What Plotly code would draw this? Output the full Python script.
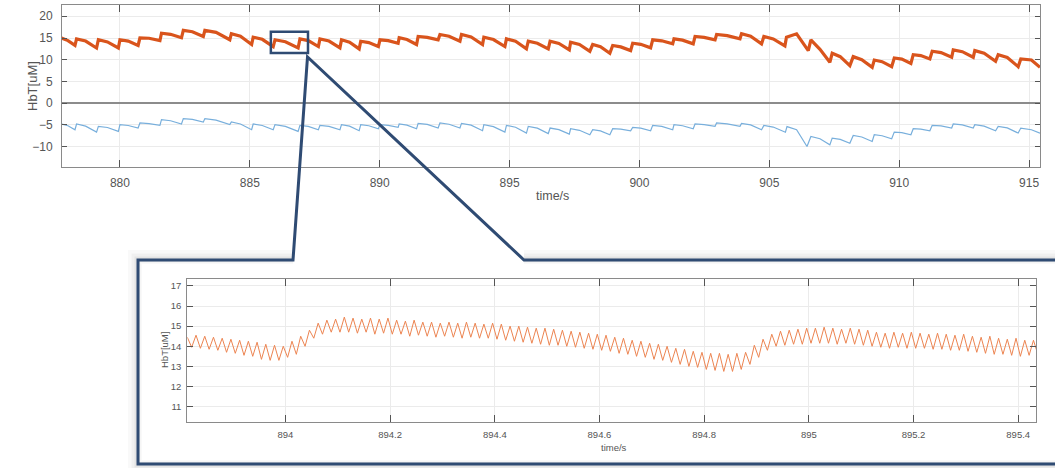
import plotly.graph_objects as go

W, H = 1055, 468

# ---------------- data ----------------
top_x_ticks = [880, 885, 890, 895, 900, 905, 910, 915]
top_y_ticks = [-10, -5, 0, 5, 10, 15, 20]
inset_x_ticks = [894.0, 894.2, 894.4, 894.6, 894.8, 895.0, 895.2, 895.4]
inset_x_labels = ["894", "894.2", "894.4", "894.6", "894.8", "895", "895.2", "895.4"]
inset_y_ticks = [11, 12, 13, 14, 15, 16, 17]

orange_t = [
    877.75, 878.00, 878.27, 878.33, 878.68, 879.10, 879.17, 879.52, 879.94, 880.00, 880.32, 880.70,
    880.77, 881.12, 881.54, 881.60, 881.95, 882.37, 882.44, 882.79, 883.21, 883.27, 883.70, 884.23,
    884.29, 884.64, 885.07, 885.13, 885.48, 885.90, 885.97, 886.37, 886.86, 886.93, 887.25, 887.64,
    887.70, 888.05, 888.47, 888.53, 888.84, 889.21, 889.27, 889.58, 889.95, 890.01, 890.33, 890.71,
    890.75, 891.05, 891.42, 891.48, 891.83, 892.25, 892.32, 892.67, 893.09, 893.15, 893.52, 893.96,
    894.01, 894.38, 894.82, 894.88, 895.23, 895.65, 895.72, 896.07, 896.49, 896.56, 896.90, 897.30,
    897.35, 897.69, 898.09, 898.20, 898.50, 898.86, 898.97, 899.28, 899.66, 899.74, 900.05, 900.43,
    900.51, 900.86, 901.28, 901.33, 901.66, 902.07, 902.14, 902.49, 902.91, 902.97, 903.38, 903.87,
    903.93, 904.28, 904.70, 904.79, 905.15, 905.60, 905.66, 906.05, 906.50, 906.60, 906.95, 907.33,
    907.42, 907.73, 908.10, 908.23, 908.56, 908.96, 909.04, 909.34, 909.71, 909.81, 910.10, 910.45,
    910.54, 910.83, 911.18, 911.27, 911.61, 912.02, 912.08, 912.43, 912.85, 912.91, 913.27, 913.71,
    913.81, 914.16, 914.58, 914.68, 915.09, 915.42,
]
orange_v = [
    15.0, 14.4, 13.3, 14.8, 14.3, 12.7, 14.6, 14.1, 12.7, 14.6, 14.3, 13.3,
    15.05, 14.95, 14.4, 16.1, 15.85, 15.05, 16.75, 16.45, 15.35, 16.75, 16.3, 14.6,
    16.0, 15.4, 13.5, 15.2, 14.7, 13.0, 14.6, 14.15, 12.7, 14.8, 14.4, 13.03,
    14.81, 14.3, 12.74, 14.58, 14.05, 12.49, 14.26, 13.95, 13.03, 14.58, 14.4, 13.8,
    15.05, 14.65, 13.5, 15.36, 15.15, 14.58, 15.81, 15.4, 14.26, 15.81, 15.25, 13.5,
    15.2, 14.65, 13.03, 14.81, 14.25, 12.49, 14.26, 13.8, 12.5, 14.26, 13.75, 12.26,
    14.04, 13.5, 11.95, 13.5, 13.0, 11.48, 13.27, 12.95, 12.1, 13.8, 13.55, 12.74,
    14.58, 14.35, 13.65, 14.81, 14.5, 13.65, 15.36, 15.15, 14.58, 15.81, 15.55, 14.81,
    15.97, 15.4, 13.65, 15.36, 14.8, 13.2, 15.2, 15.97, 12.1, 14.58, 12.4, 9.4,
    11.48, 10.7, 8.63, 10.71, 10.0, 8.25, 9.93, 9.55, 8.4, 10.4, 10.15, 9.16,
    11.17, 10.95, 10.17, 11.95, 11.65, 10.56, 12.26, 11.85, 10.56, 12.1, 11.5, 9.62,
    11.17, 10.5, 8.4, 10.17, 9.93, 8.25,
]

blue_t = [
    877.75, 878.00, 878.27, 878.33, 878.68, 879.10, 879.17, 879.52, 879.94, 880.00, 880.32, 880.70,
    880.77, 881.12, 881.54, 881.60, 881.95, 882.37, 882.44, 882.79, 883.21, 883.27, 883.70, 884.23,
    884.29, 884.64, 885.07, 885.13, 885.48, 885.90, 885.97, 886.37, 886.86, 886.93, 887.25, 887.64,
    887.70, 888.05, 888.47, 888.53, 888.84, 889.21, 889.27, 889.58, 889.95, 890.01, 890.33, 890.71,
    890.75, 891.05, 891.42, 891.48, 891.83, 892.25, 892.32, 892.67, 893.09, 893.15, 893.52, 893.96,
    894.01, 894.38, 894.82, 894.88, 895.23, 895.65, 895.72, 896.07, 896.49, 896.56, 896.90, 897.30,
    897.35, 897.69, 898.09, 898.20, 898.50, 898.86, 898.97, 899.28, 899.66, 899.74, 900.05, 900.43,
    900.51, 900.86, 901.28, 901.33, 901.66, 902.07, 902.14, 902.49, 902.91, 902.97, 903.38, 903.87,
    903.93, 904.28, 904.70, 904.79, 905.15, 905.62, 905.68, 906.05, 906.45, 906.60, 906.95, 907.33,
    907.42, 907.73, 908.10, 908.23, 908.56, 908.96, 909.04, 909.34, 909.71, 909.81, 910.10, 910.45,
    910.54, 910.83, 911.18, 911.27, 911.61, 912.02, 912.08, 912.43, 912.85, 912.91, 913.27, 913.71,
    913.81, 914.16, 914.58, 914.68, 915.09, 915.42,
]
blue_v = [
    -4.8, -5.2, -6.12, -4.8, -5.3, -6.66, -5.34, -5.6, -6.5, -4.95, -5.15, -5.73,
    -4.57, -4.7, -5.11, -3.79, -4.05, -4.8, -3.56, -3.75, -4.33, -3.56, -3.9, -4.95,
    -4.33, -4.8, -6.12, -4.8, -5.15, -6.12, -4.95, -5.35, -6.5, -5.1, -5.35, -6.12,
    -5.11, -5.35, -6.12, -4.95, -5.3, -6.35, -4.95, -5.2, -5.89, -4.95, -5.1, -5.58,
    -4.8, -5.05, -5.89, -4.65, -4.9, -5.73, -4.57, -4.85, -5.73, -4.65, -5.05, -6.35,
    -4.95, -5.4, -6.66, -5.11, -5.55, -6.89, -5.34, -5.75, -7.0, -5.73, -6.1, -7.12,
    -5.89, -6.25, -7.27, -6.12, -6.4, -7.27, -5.89, -6.0, -6.35, -5.58, -5.75, -6.35,
    -5.11, -5.35, -6.12, -4.95, -5.2, -5.89, -4.8, -4.95, -5.34, -4.57, -4.75, -5.34,
    -4.65, -5.0, -6.12, -5.11, -5.5, -6.7, -5.4, -6.12, -9.99, -7.66, -8.2, -9.6,
    -8.05, -8.35, -9.22, -7.43, -7.8, -8.83, -7.27, -7.5, -8.2, -6.66, -6.8, -7.27,
    -5.89, -6.0, -6.35, -5.11, -5.25, -5.73, -4.8, -5.0, -5.73, -4.95, -5.3, -6.35,
    -5.34, -5.7, -6.89, -5.73, -6.12, -6.89,
]

inset_t0 = 893.8125
inset_dt = 1 / 120
inset_v = [
    14.45, 13.95, 14.55, 13.9, 14.5, 13.85, 14.45, 13.8, 14.4, 13.7, 14.35, 13.65,
    14.3, 13.55, 14.25, 13.5, 14.2, 13.35, 14.1, 13.3, 14.05, 13.3, 14.0, 13.45,
    14.25, 13.6, 14.5, 14.0, 14.8, 14.4, 15.15, 14.6, 15.3, 14.7, 15.35, 14.7,
    15.45, 14.7, 15.4, 14.65, 15.35, 14.7, 15.4, 14.6, 15.35, 14.65, 15.4, 14.6,
    15.3, 14.6, 15.25, 14.5, 15.3, 14.55, 15.2, 14.5, 15.2, 14.45, 15.15, 14.5,
    15.2, 14.45, 15.15, 14.4, 15.2, 14.45, 15.15, 14.4, 15.1, 14.4, 15.15, 14.35,
    15.1, 14.3, 15.0, 14.25, 15.0, 14.2, 14.95, 14.15, 14.9, 14.1, 14.9, 14.05,
    14.85, 14.05, 14.8, 14.0, 14.75, 13.95, 14.7, 13.9, 14.65, 13.85, 14.6, 13.8,
    14.55, 13.75, 14.45, 13.65, 14.4, 13.6, 14.3, 13.5, 14.25, 13.45, 14.15, 13.35,
    14.1, 13.3, 14.0, 13.2, 13.9, 13.1, 13.85, 13.0, 13.75, 12.95, 13.7, 12.85,
    13.65, 12.8, 13.65, 12.75, 13.6, 12.75, 13.65, 12.85, 13.7, 13.1, 14.05, 13.45,
    14.35, 13.8, 14.6, 14.0, 14.75, 14.05, 14.8, 14.1, 14.85, 14.1, 14.9, 14.15,
    14.9, 14.15, 14.95, 14.15, 14.9, 14.1, 14.85, 14.15, 14.9, 14.1, 14.85, 14.05,
    14.8, 14.0, 14.7, 13.95, 14.65, 13.9, 14.7, 13.95, 14.65, 13.9, 14.7, 13.9,
    14.65, 13.9, 14.6, 13.85, 14.65, 13.85, 14.6, 13.8, 14.55, 13.8, 14.6, 13.75,
    14.5, 13.7, 14.45, 13.65, 14.5, 13.6, 14.4, 13.6, 14.35, 13.55, 14.4, 13.5,
    14.3, 13.55, 14.3, 13.6,
]

# zoom-box extent in data units of the top chart
zoom_box_t = [885.81, 887.24]
zoom_box_v = [11.56, 16.44]

# ---------------- figure ----------------
FONT = "Liberation Sans, Arial, Helvetica, sans-serif"
TXT = "#555555"
CALLOUT = "#2f4b73"


def px(x):
    return x / W


def py(y):
    return 1 - y / H


fig = go.Figure()
fig.add_trace(go.Scatter(x=orange_t, y=orange_v, mode="lines",
                         line=dict(color="#d9541c", width=3.2), xaxis="x", yaxis="y",
                         hoverinfo="skip"))
fig.add_trace(go.Scatter(x=blue_t, y=blue_v, mode="lines",
                         line=dict(color="#78afdc", width=1.2), xaxis="x", yaxis="y",
                         hoverinfo="skip"))
fig.add_trace(go.Scatter(x0=inset_t0, dx=inset_dt, y=inset_v, mode="lines",
                         line=dict(color="#ec8451", width=1), xaxis="x2", yaxis="y2",
                         hoverinfo="skip"))

common = dict(showline=True, linecolor="#8a8a8a", linewidth=1, mirror="ticks",
              ticks="inside", tickcolor="#555555", tickwidth=1,
              showgrid=True, gridcolor="#ebebeb", gridwidth=1)

fig.update_layout(
    width=W, height=H, margin=dict(l=0, r=0, t=0, b=0),
    paper_bgcolor="white", plot_bgcolor="white", showlegend=False,
    xaxis=dict(domain=[px(62), px(1040)], anchor="y", range=[877.77, 915.42],
               tickvals=top_x_ticks, ticklen=7, zeroline=False,
               tickfont=dict(family=FONT, size=12, color=TXT), ticklabelstandoff=5, **common),
    yaxis=dict(domain=[py(167), py(5)], anchor="x", range=[-14.7, 22.6],
               tickvals=top_y_ticks, ticklen=5, zeroline=True, zerolinecolor="#8c8c8c",
               zerolinewidth=1.6,
               tickfont=dict(family=FONT, size=12, color=TXT), ticklabelstandoff=6, **common),
    xaxis2=dict(domain=[px(187.3), px(1036)], anchor="y2", range=[893.8125, 895.434],
                tickvals=inset_x_ticks, ticktext=inset_x_labels, ticklen=7, zeroline=False,
                tickfont=dict(family=FONT, size=9.5, color=TXT), ticklabelstandoff=4, **common),
    yaxis2=dict(domain=[py(421.7), py(279.3)], anchor="x2", range=[10.25, 17.33],
                tickvals=inset_y_ticks, ticklen=6, zeroline=False,
                tickfont=dict(family=FONT, size=9.5, color=TXT), ticklabelstandoff=3, **common),
)

ann = dict(xref="paper", yref="paper", showarrow=False, xanchor="center", yanchor="middle")
fig.add_annotation(text="HbT[uM]", x=px(32), y=py(86), textangle=-90,
                   font=dict(family=FONT, size=13, color=TXT), **ann)
fig.add_annotation(text="time/s", x=px(552), y=py(196),
                   font=dict(family=FONT, size=12.5, color=TXT), **ann)
fig.add_annotation(text="HbT[uM]", x=px(164), y=py(350), textangle=-90,
                   font=dict(family=FONT, size=9.5, color=TXT), **ann)
fig.add_annotation(text="time/s", x=px(614), y=py(447),
                   font=dict(family=FONT, size=9.5, color=TXT), **ann)

# zoom box on the top chart
fig.add_shape(type="rect", xref="x", yref="y", x0=zoom_box_t[0], x1=zoom_box_t[1],
              y0=zoom_box_v[0], y1=zoom_box_v[1], line=dict(color=CALLOUT, width=2.5))


def path(points, close=True):
    s = "M " + " L ".join(f"{px(x):.5f},{py(y):.5f}" for x, y in points)
    return s + (" Z" if close else "")


# soft shadow of the callout frame
for w, a, off in [(14, 0.025, 3), (9, 0.035, 2), (5, 0.05, 1)]:
    fig.add_shape(type="path", xref="paper", yref="paper",
                  path=path([(293, 260 - off), (138 - off, 260 - off), (138 - off, 464 + off),
                             (1062, 464 + off)], close=False),
                  line=dict(color=f"rgba(0,0,0,{a})", width=w), layer="below")
    fig.add_shape(type="path", xref="paper", yref="paper",
                  path=path([(524, 260 - off), (1062, 260 - off)], close=False),
                  line=dict(color=f"rgba(0,0,0,{a})", width=w), layer="below")

# callout frame
fig.add_shape(type="path", xref="paper", yref="paper",
              path=path([(138, 260), (293, 260), (307.5, 57), (524, 260), (1062, 260),
                         (1062, 464), (138, 464)], close=True),
              line=dict(color=CALLOUT, width=3))

fig.write_html(
    "out.html",
    config={"displayModeBar": False},
    post_script="document.body.style.margin='0px';document.body.style.overflow='hidden';",
)
